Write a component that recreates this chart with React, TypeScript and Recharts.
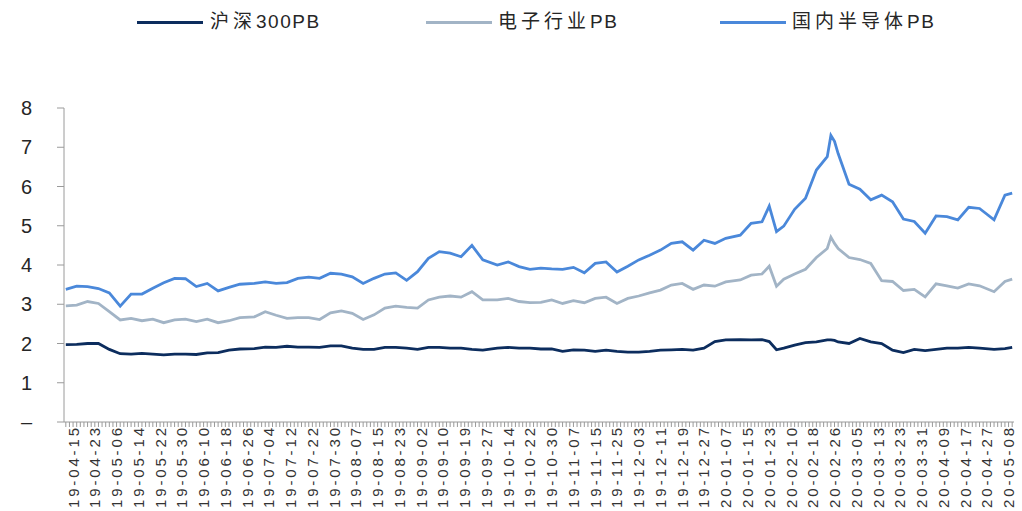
import React from "react";
import { LineChart, Line, XAxis, YAxis } from "recharts";

// ─── Data ─────────────────────────────────────────
// date labels, one every 6 trading days starting at day 0
const dateLabels = [
  "19-04-15", "19-04-23", "19-05-06", "19-05-14", "19-05-22", "19-05-30",
  "19-06-10", "19-06-18", "19-06-26", "19-07-04", "19-07-12", "19-07-22",
  "19-07-30", "19-08-07", "19-08-15", "19-08-23", "19-09-02", "19-09-10",
  "19-09-19", "19-09-27", "19-10-14", "19-10-22", "19-10-30", "19-11-07",
  "19-11-15", "19-11-25", "19-12-03", "19-12-11", "19-12-19", "19-12-27",
  "20-01-07", "20-01-15", "20-01-23", "20-02-10", "20-02-18", "20-02-26",
  "20-03-05", "20-03-13", "20-03-23", "20-03-31", "20-04-09", "20-04-17",
  "20-04-27", "20-05-08",
];

// trading-day index of each sampled point (0 = 19-04-15)
const tradingDay = [
  -2, 1, 4, 7, 10, 13, 16, 19, 22, 25, 28, 31, 34, 37, 40, 43, 46, 50, 53, 56,
  59, 62, 65, 68, 71, 74, 77, 80, 83, 86, 89, 92, 95, 98, 101, 104, 107, 110, 113, 117,
  120, 123, 126, 129, 132, 135, 138, 141, 144, 147, 150, 153, 156, 159, 162, 165, 168, 171, 174, 177,
  180, 184, 187, 190, 192, 194, 196, 199, 202, 205, 208, 209, 210, 211, 214, 217, 220, 223, 226, 229,
  232, 235, 238, 241, 244, 247, 250, 254, 257, 259,
];

const hs300PB = [
  1.97, 1.98, 2.0, 2.0, 1.85, 1.74, 1.73, 1.75, 1.73, 1.71, 1.73, 1.73, 1.72, 1.76, 1.77, 1.83, 1.86, 1.87, 1.91, 1.9,
  1.93, 1.91, 1.91, 1.9, 1.94, 1.94, 1.88, 1.85, 1.85, 1.9, 1.9, 1.88, 1.85, 1.9, 1.9, 1.88, 1.88, 1.85, 1.83, 1.88,
  1.9, 1.88, 1.88, 1.86, 1.86, 1.8, 1.84, 1.83, 1.8, 1.83, 1.8, 1.78, 1.78, 1.8, 1.83, 1.84, 1.85, 1.83, 1.88, 2.05,
  2.09, 2.1, 2.09, 2.1, 2.05, 1.84, 1.88, 1.96, 2.02, 2.04, 2.09, 2.09, 2.08, 2.04, 2.0, 2.13, 2.04, 2.0, 1.83, 1.77,
  1.85, 1.82, 1.85, 1.88, 1.88, 1.9, 1.88, 1.85, 1.87, 1.9,
];

const electronicsPB = [
  2.96, 2.98, 3.07, 3.02, 2.81, 2.6, 2.64, 2.58, 2.62, 2.53, 2.6, 2.62, 2.56, 2.62, 2.53, 2.58, 2.66, 2.68, 2.81, 2.72,
  2.64, 2.66, 2.66, 2.61, 2.78, 2.83, 2.77, 2.61, 2.73, 2.9, 2.95, 2.92, 2.9, 3.11, 3.18, 3.21, 3.18, 3.32, 3.11, 3.11,
  3.15, 3.07, 3.04, 3.05, 3.11, 3.02, 3.09, 3.04, 3.15, 3.18, 3.02, 3.15, 3.21, 3.29, 3.36, 3.49, 3.53, 3.38, 3.49, 3.46,
  3.57, 3.62, 3.74, 3.77, 3.97, 3.46, 3.64, 3.77, 3.89, 4.19, 4.42, 4.71, 4.55, 4.42, 4.19, 4.14, 4.04, 3.6, 3.58, 3.35,
  3.38, 3.19, 3.52, 3.47, 3.41, 3.52, 3.47, 3.32, 3.58, 3.64,
];

const semiconductorPB = [
  3.38, 3.46, 3.45, 3.4, 3.29, 2.95, 3.26, 3.26, 3.41, 3.55, 3.66, 3.65, 3.45, 3.53, 3.34, 3.43, 3.51, 3.53, 3.57, 3.53,
  3.55, 3.66, 3.69, 3.66, 3.79, 3.77, 3.7, 3.53, 3.66, 3.77, 3.8, 3.61, 3.83, 4.17, 4.34, 4.3, 4.21, 4.5, 4.13, 4.0,
  4.08, 3.96, 3.89, 3.92, 3.9, 3.89, 3.94, 3.8, 4.04, 4.08, 3.82, 3.97, 4.13, 4.25, 4.38, 4.55, 4.59, 4.38, 4.63, 4.55,
  4.68, 4.76, 5.06, 5.1, 5.5, 4.85, 4.99, 5.42, 5.7, 6.42, 6.76, 7.3, 7.15, 6.84, 6.06, 5.93, 5.66, 5.78, 5.61, 5.17,
  5.11, 4.81, 5.25, 5.23, 5.15, 5.47, 5.44, 5.15, 5.78, 5.83,
];

const yTicks = [0, 1, 2, 3, 4, 5, 6, 7, 8];

const chartData = tradingDay.map((d, i) => ({
  d,
  hs300: hs300PB[i],
  elec: electronicsPB[i],
  semi: semiconductorPB[i],
}));

// one minor tick per trading day, labelled every 6th
const dayTicks = Array.from({ length: 262 }, (_, i) => i - 2);

// ─── Styles ───────────────────────────────────────
const FONT = "'Liberation Sans', Arial, 'Noto Sans CJK SC', sans-serif";
const AXIS = "#9a9a9a";

const series = [
  { key: "hs300", cjk: "沪深", latin: "300PB", color: "#0c2d5e" },
  { key: "elec", cjk: "电子行业", latin: "PB", color: "#a2b4c6" },
  { key: "semi", cjk: "国内半导体", latin: "PB", color: "#4a88da" },
];

const legendPos = [
  { line: 137, text: 210 },
  { line: 426, text: 498 },
  { line: 720, text: 792 },
];

function DateTick({ x, y, payload }: any) {
  const day = payload.value;
  if (day < 0 || day % 6 !== 0) return <g />;
  const label = dateLabels[day / 6];
  if (!label) return <g />;
  return (
    <text
      x={x}
      y={y}
      transform={`rotate(-90, ${x}, ${y})`}
      textAnchor="end"
      dominantBaseline="central"
      fontSize={15}
      fontFamily={FONT}
      fill="#333"
      textLength={80}
      lengthAdjust="spacing"
    >
      {label}
    </text>
  );
}

export default function App() {
  return (
    <div style={{ position: "absolute", left: 0, top: 0, width: 1022, height: 511, background: "#fff" }}>
      {series.map((s, i) => (
        <div key={s.key}>
          <div
            style={{
              position: "absolute",
              left: legendPos[i].line,
              top: 21,
              width: 66,
              height: 3,
              background: s.color,
            }}
          />
          <div
            style={{
              position: "absolute",
              left: legendPos[i].text,
              top: 10,
              fontFamily: FONT,
              fontSize: 19,
              lineHeight: "24px",
              color: "#262626",
              whiteSpace: "nowrap",
            }}
          >
            <span style={{ letterSpacing: 4 }}>{s.cjk}</span>
            <span style={{ letterSpacing: 1.5 }}>{s.latin}</span>
          </div>
        </div>
      ))}

      <LineChart
        width={1022}
        height={511}
        data={chartData}
        margin={{ top: 108, right: 8, bottom: 0, left: 0 }}
      >
        <XAxis
          dataKey="d"
          type="number"
          domain={[-2.5, 259.5]}
          ticks={dayTicks}
          interval={0}
          height={89}
          tickSize={5}
          tickMargin={1}
          axisLine={{ stroke: AXIS }}
          tickLine={{ stroke: AXIS }}
          tick={DateTick}
        />
        <YAxis
          type="number"
          domain={[0, 8]}
          ticks={yTicks}
          width={64}
          tickSize={7}
          tickMargin={25}
          axisLine={{ stroke: AXIS }}
          tickLine={{ stroke: AXIS }}
          tick={{ fontSize: 20, fill: "#262626", fontFamily: FONT }}
          tickFormatter={(v: number) => (v === 0 ? "–" : `${v}`)}
        />
        {series.map((s) => (
          <Line
            key={s.key}
            type="linear"
            dataKey={s.key}
            name={s.cjk + s.latin}
            stroke={s.color}
            strokeWidth={2.8}
            dot={false}
            isAnimationActive={false}
          />
        ))}
      </LineChart>
    </div>
  );
}
